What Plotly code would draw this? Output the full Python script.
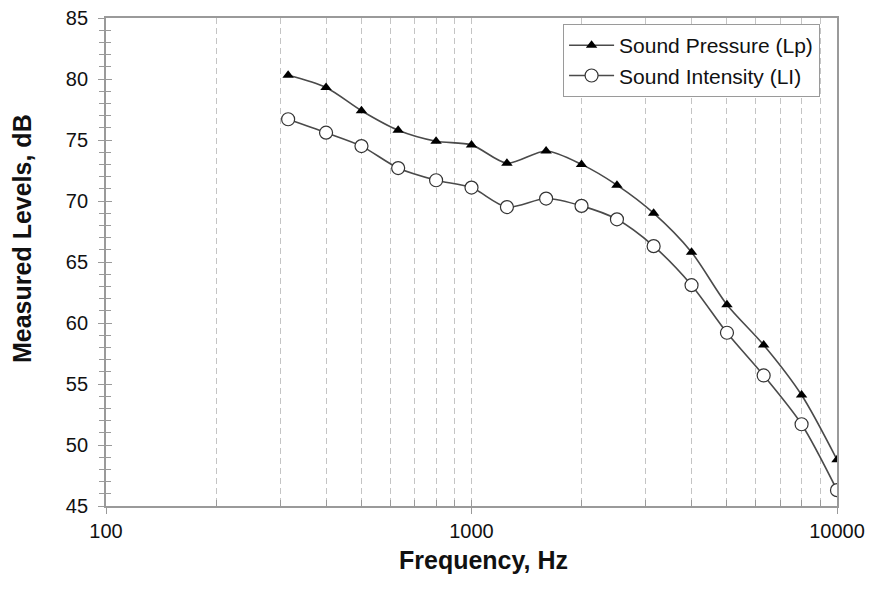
import plotly.graph_objects as go

freq = [315, 400, 500, 630, 800, 1000, 1250, 1600, 2000, 2500, 3150, 4000, 5000, 6300, 8000, 10000]
lp = [80.3, 79.3, 77.4, 75.8, 74.9, 74.6, 73.1, 74.1, 73.0, 71.3, 69.0, 65.8, 61.5, 58.2, 54.1, 48.8]
li = [76.7, 75.6, 74.5, 72.7, 71.7, 71.1, 69.5, 70.2, 69.6, 68.5, 66.3, 63.1, 59.2, 55.7, 51.7, 46.3]

x_major = [100, 1000, 10000]
x_major_text = ["100", "1000", "10000"]
x_minor = [200, 300, 400, 500, 600, 700, 800, 900, 2000, 3000, 4000, 5000, 6000, 7000, 8000, 9000]
y_range = [45, 85]

FONT = "Liberation Sans, Arial, sans-serif"
LINE = "#4a4a4a"
FRAME = "#9a9a9a"
GRID = "#c4c4c4"

fig = go.Figure()
fig.add_trace(go.Scatter(
    x=freq, y=lp, name="Sound Pressure (Lp)", mode="lines+markers",
    line=dict(color=LINE, width=1.6, shape="spline", smoothing=0.8),
    marker=dict(symbol="triangle-up", size=10, color="black", line=dict(width=0)),
))
fig.add_trace(go.Scatter(
    x=freq, y=li, name="Sound Intensity (LI)", mode="lines+markers",
    line=dict(color=LINE, width=1.6, shape="spline", smoothing=0.8),
    marker=dict(symbol="circle", size=13, color="white", line=dict(color="#333333", width=1.2)),
))
# helper traces so the overlay axes (inside half of the crossing ticks) are drawn
fig.add_trace(go.Scatter(x=[], y=[], xaxis="x", yaxis="y2", showlegend=False, hoverinfo="skip"))
fig.add_trace(go.Scatter(x=[], y=[], xaxis="x2", yaxis="y", showlegend=False, hoverinfo="skip"))

fig.update_layout(
    width=869, height=590,
    margin=dict(l=106, r=32, t=18, b=84, autoexpand=False),
    paper_bgcolor="white", plot_bgcolor="white",
    font=dict(family=FONT, size=20, color="#111111"),
    showlegend=True,
    legend=dict(
        x=0.625, y=0.988, xanchor="left", yanchor="top",
        bgcolor="white", bordercolor=FRAME, borderwidth=1.2,
        font=dict(family=FONT, size=21, color="#111111"),
        itemwidth=45, tracegroupgap=0,
    ),
    xaxis=dict(
        type="log", range=[2, 4], automargin=False,
        tickmode="array", tickvals=x_major, ticktext=x_major_text,
        ticks="outside", ticklen=6, tickcolor=FRAME, tickwidth=1.2,
        showline=True, mirror=True, linecolor=FRAME, linewidth=1.8,
        showgrid=True, gridcolor=GRID, griddash="6px,4px", gridwidth=1,
        minor=dict(tickmode="array", tickvals=x_minor, ticks="inside", ticklen=6,
                   tickcolor=FRAME, tickwidth=1,
                   showgrid=True, gridcolor=GRID, griddash="6px,4px", gridwidth=1),
        zeroline=False,
        tickfont=dict(size=20, family=FONT, color="#111111"),
        ticklabelstandoff=0,
    ),
    xaxis2=dict(
        type="log", range=[2, 4], overlaying="x", anchor="y", side="bottom",
        tickmode="array", tickvals=x_major, ticks="inside", ticklen=6,
        tickcolor=FRAME, tickwidth=1.2, showticklabels=False,
        showgrid=False, showline=False, zeroline=False,
    ),
    yaxis=dict(
        range=y_range, dtick=5, tick0=45, automargin=False,
        ticks="outside", ticklen=6, tickcolor=FRAME, tickwidth=1.2,
        showline=True, mirror=True, linecolor=FRAME, linewidth=1.8,
        showgrid=False, zeroline=False,
        minor=dict(dtick=1, ticks="outside", ticklen=5, tickcolor=FRAME, tickwidth=1, showgrid=False),
        tickfont=dict(size=20, family=FONT, color="#111111"),
        ticklabelstandoff=6,
    ),
    yaxis2=dict(
        range=y_range, dtick=5, tick0=45, overlaying="y", anchor="x", side="left",
        ticks="inside", ticklen=6, tickcolor=FRAME, tickwidth=1.2,
        minor=dict(dtick=1, ticks="inside", ticklen=5, tickcolor=FRAME, tickwidth=1, showgrid=False),
        showticklabels=False, showgrid=False, showline=False, zeroline=False,
    ),
    annotations=[
        dict(text="<b>Frequency, Hz</b>", xref="paper", yref="paper",
             x=0.517, y=-0.11, xanchor="center", yanchor="middle", showarrow=False,
             font=dict(family=FONT, size=25, color="#111111")),
        dict(text="<b>Measured Levels, dB</b>", xref="paper", yref="paper",
             x=-0.115, y=0.549, xanchor="center", yanchor="middle", showarrow=False,
             textangle=-90, font=dict(family=FONT, size=25, color="#111111")),
    ],
)

fig.write_html("out.html")
